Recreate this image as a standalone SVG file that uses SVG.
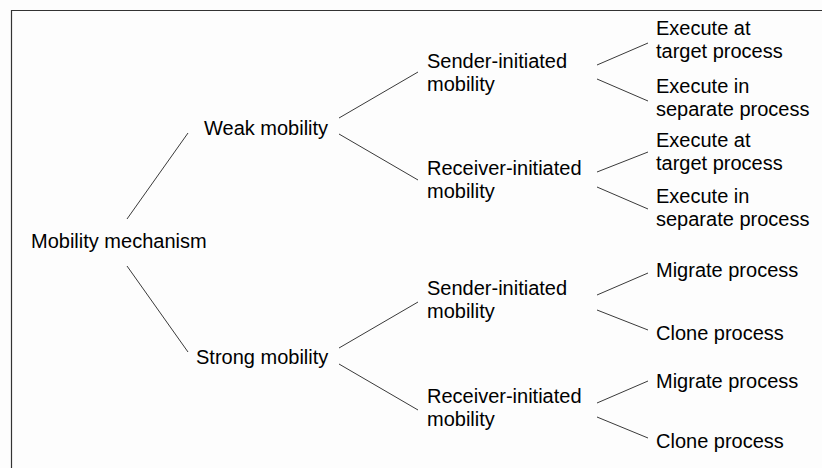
<svg xmlns="http://www.w3.org/2000/svg" width="822" height="468" viewBox="0 0 822 468">
<style>
text{font-family:"Liberation Sans",Arial,sans-serif;font-size:20px;fill:#000}
.c line{stroke:#3a3a3a;stroke-width:1}
.frame{stroke:#333;stroke-width:1.2;fill:none}
</style>
<rect width="822" height="468" fill="#fdfdfd"/>
<path class="frame" d="M11.5,468 V10.5 H822"/>
<g class="c" id="connectors">
<line x1="127" y1="219" x2="188" y2="133"/>
<line x1="127" y1="266" x2="188" y2="352"/>
<line x1="339" y1="118" x2="418" y2="72"/>
<line x1="339" y1="134" x2="418" y2="180"/>
<line x1="339" y1="348" x2="418" y2="302"/>
<line x1="339" y1="364" x2="418" y2="410"/>
<line x1="597" y1="65" x2="648" y2="43"/>
<line x1="597" y1="79" x2="648" y2="101"/>
<line x1="597" y1="172" x2="648" y2="152"/>
<line x1="597" y1="187" x2="648" y2="209"/>
<line x1="597" y1="295" x2="648" y2="273"/>
<line x1="597" y1="310" x2="648" y2="330"/>
<line x1="597" y1="403" x2="648" y2="381"/>
<line x1="597" y1="417" x2="648" y2="438"/>
</g>
<g id="root"><text x="31" y="248">Mobility mechanism</text></g>
<g id="weak"><text x="204" y="135">Weak mobility</text></g>
<g id="strong"><text x="196" y="364">Strong mobility</text></g>
<g id="weak-sender"><text x="427" y="68">Sender-initiated</text><text x="427" y="91">mobility</text></g>
<g id="weak-receiver"><text x="427" y="175">Receiver-initiated</text><text x="427" y="198">mobility</text></g>
<g id="strong-sender"><text x="427" y="295">Sender-initiated</text><text x="427" y="318">mobility</text></g>
<g id="strong-receiver"><text x="427" y="403">Receiver-initiated</text><text x="427" y="426">mobility</text></g>
<g id="ws-target"><text x="656" y="35">Execute at</text><text x="656" y="58">target process</text></g>
<g id="ws-separate"><text x="656" y="93">Execute in</text><text x="656" y="116">separate process</text></g>
<g id="wr-target"><text x="656" y="147">Execute at</text><text x="656" y="170">target process</text></g>
<g id="wr-separate"><text x="656" y="203">Execute in</text><text x="656" y="226">separate process</text></g>
<g id="ss-migrate"><text x="656" y="277">Migrate process</text></g>
<g id="ss-clone"><text x="656" y="340">Clone process</text></g>
<g id="sr-migrate"><text x="656" y="388">Migrate process</text></g>
<g id="sr-clone"><text x="656" y="448">Clone process</text></g>
</svg>
